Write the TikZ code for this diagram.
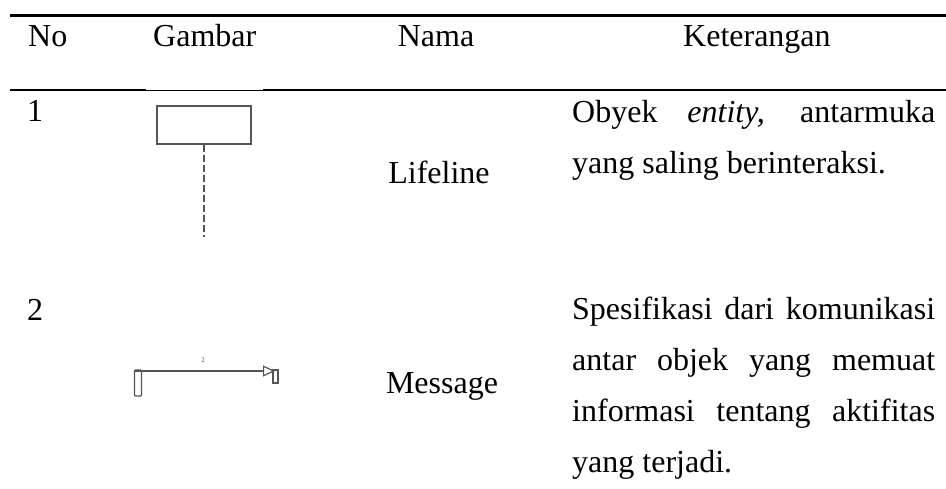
\documentclass[tikz,border=0pt]{standalone}
\usepackage{fontspec}
\setmainfont{Liberation Serif}
\usetikzlibrary{arrows.meta}
\definecolor{symline}{RGB}{85,85,85}
\tikzset{
  txt/.style={anchor=base west, inner sep=0pt, font=\fontsize{32}{40}\selectfont},
  ctxt/.style={anchor=base, inner sep=0pt, font=\fontsize{32}{40}\selectfont},
  rulethick/.style={line width=2.2pt, black},
  symbol/.style={draw=symline, line width=1.3pt},
}
\newcommand{\jline}[1]{\makebox[363pt][s]{#1}}
\begin{document}
\begin{tikzpicture}[x=1pt,y=-1pt]
  \useasboundingbox (0,0) rectangle (946,488);
  \fill[white] (0,0) rectangle (946,488);

  % table rules
  \coordinate (t1) at (10,15.5);  \coordinate (t2) at (946,15.5);
  \draw[rulethick] (t1) -- (t2);
  \coordinate (m1) at (10,90);  \coordinate (m2) at (146,90);
  \coordinate (m3) at (263,90); \coordinate (m4) at (946,90);
  \draw[rulethick] (m1) -- (m2);
  \draw[line width=1pt] (m2) -- (m3);
  \draw[rulethick] (m3) -- (m4);

  % header
  \node[txt]  (hno)  at (28,46)  {No};
  \node[txt]  (hgam) at (153,46) {Gambar};
  \node[ctxt] (hnam) at (436,46) {Nama};
  \node[txt]  (hket) at (683,46) {Keterangan};

  % row 1: lifeline
  \node[txt] (n1) at (27,121) {1};
  \node[symbol, draw, rectangle, minimum width=94pt, minimum height=38pt, inner sep=0pt]
    (llbox) at (204,125) {};
  \coordinate (llend) at (204,237);
  \draw[symline, line width=1.3pt, dash pattern=on 7pt off 3pt] (llbox.south) -- (llend);
  \node[ctxt] (nm1) at (439,183) {Lifeline};
  \node[txt] (k1a) at (572,122) {\jline{Obyek \textit{entity,} antarmuka}};
  \node[txt] (k1b) at (572,173) {yang saling berinteraksi.};

  % row 2: message
  \node[txt] (n2) at (27,320) {2};
  \node[symbol, draw, rectangle, rounded corners=1pt, minimum width=7pt, minimum height=26pt, inner sep=0pt]
    (actL) at (138,383) {};
  \node[symbol, draw, rectangle, minimum width=5pt, minimum height=13pt, inner sep=0pt]
    (actR) at (275.5,376.5) {};
  \coordinate (msgS) at (134,371);
  \coordinate (msgE) at (275,371);
  \draw[symline, line width=1.2pt, -{Triangle[open, length=12pt, width=11pt, line width=1.2pt]}]
    (msgS) -- (msgE);
  \node[anchor=base, inner sep=0pt, text=symline, font=\fontsize{7}{8}\selectfont]
    (msglbl) at (203,362) {2};
  \node[ctxt] (nm2) at (442,393) {Message};
  \node[txt] (k2a) at (572,319) {\jline{Spesifikasi dari komunikasi}};
  \node[txt] (k2b) at (572,370) {\jline{antar objek yang memuat}};
  \node[txt] (k2c) at (572,421) {\jline{informasi tentang aktifitas}};
  \node[txt] (k2d) at (572,472) {yang terjadi.};
\end{tikzpicture}
\end{document}
